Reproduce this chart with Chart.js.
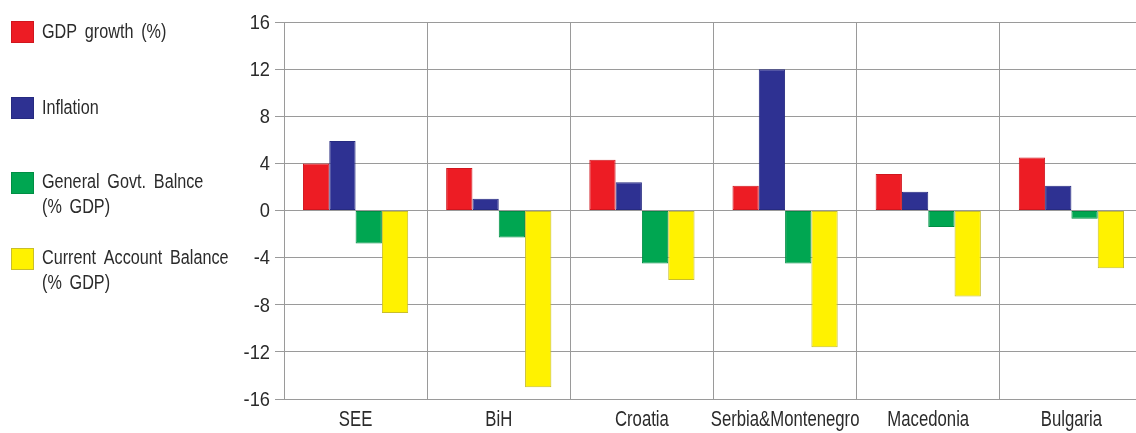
<!DOCTYPE html>
<html>
<head>
<meta charset="utf-8">
<script src="https://cdn.jsdelivr.net/npm/chart.js@4.4.1/dist/chart.umd.min.js"></script>
<style>
  html, body { margin: 0; padding: 0; background: #fff; overflow: hidden; }
  #wrap { width: 1146px; height: 433px; position: relative; }
</style>
</head>
<body>
<div id="wrap"><canvas id="c" width="1146" height="433"></canvas></div>
<script>
// Categories and series (%)
const countries = ['SEE', 'BiH', 'Croatia', 'Serbia&Montenegro', 'Macedonia', 'Bulgaria'];
const gdpGrowth = [4.0, 3.6, 4.3, 2.1, 3.1, 4.5];
const inflation = [5.9, 1.0, 2.4, 12.0, 1.6, 2.1];
const govtBalance = [-2.8, -2.3, -4.5, -4.5, -1.4, -0.7];
const currentAccount = [-8.7, -15.0, -5.9, -11.6, -7.3, -4.9];
const yTicks = [16, 12, 8, 4, 0, -4, -8, -12, -16];

const seriesLabels = [
  ['GDP growth (%)'],
  ['Inflation'],
  ['General Govt. Balnce', '(% GDP)'],
  ['Current Account Balance', '(% GDP)']
];

const FONT = "'Liberation Sans', Arial, sans-serif";
const TEXT_COLOR = '#2b2b2b';

// Condensed text: horizontally squeezed sans, optional extra space between words
function condensedText(ctx, text, x, y, opts) {
  const { size, squeeze, align = 'left', wordGap = 0 } = opts;
  ctx.save();
  ctx.font = size + 'px ' + FONT;
  ctx.fillStyle = TEXT_COLOR;
  ctx.textBaseline = 'middle';
  const words = text.split(' ');
  const space = ctx.measureText(' ').width + wordGap;
  const widths = words.map(w => ctx.measureText(w).width);
  const total = widths.reduce((a, b) => a + b, 0) + space * (words.length - 1);
  let start = 0;
  if (align === 'center') start = -total / 2;
  else if (align === 'right') start = -total;
  ctx.translate(x, y);
  ctx.scale(squeeze, 1);
  ctx.textAlign = 'left';
  let cx = start;
  words.forEach((w, i) => {
    ctx.fillText(w, cx, 0);
    cx += widths[i] + space;
  });
  ctx.restore();
}

// Axis labels and side legend
const textLayer = {
  id: 'textLayer',
  afterDraw(chart) {
    const ctx = chart.ctx;
    const xs = chart.scales.x;
    const ys = chart.scales.y;

    yTicks.forEach(v => {
      condensedText(ctx, String(v), 270, ys.getPixelForValue(v) + 1, { size: 21, squeeze: 0.87, align: 'right' });
    });
    chart.data.labels.forEach((lab, i) => {
      condensedText(ctx, lab, xs.getPixelForTick(i), 420, { size: 22, squeeze: 0.76, align: 'center' });
    });

    const rows = [32, 108, 183, 259];
    chart.data.datasets.forEach((ds, i) => {
      const cy = rows[i];
      ctx.save();
      ctx.fillStyle = ds.backgroundColor;
      ctx.fillRect(11, cy - 11, 23, 22);
      ctx.strokeStyle = ds.borderColor;
      ctx.lineWidth = 1;
      ctx.strokeRect(11.5, cy - 10.5, 22, 21);
      ctx.restore();
      const lines = seriesLabels[i];
      const startY = lines.length === 1 ? cy : cy - 1;
      lines.forEach((t, j) => condensedText(ctx, t, 42, startY + j * 25, { size: 20, squeeze: 0.81, wordGap: 4 }));
    });
  }
};

new Chart(document.getElementById('c'), {
  type: 'bar',
  data: {
    labels: countries,
    datasets: [
      { label: 'GDP growth (%)', data: gdpGrowth, backgroundColor: '#ED1C24', borderColor: '#D0161E' },
      { label: 'Inflation', data: inflation, backgroundColor: '#2E3192', borderColor: '#262A80' },
      { label: 'General Govt. Balnce (% GDP)', data: govtBalance, backgroundColor: '#00A651', borderColor: '#008E44' },
      { label: 'Current Account Balance (% GDP)', data: currentAccount, backgroundColor: '#FFF200', borderColor: '#C9BE2A' }
    ]
  },
  options: {
    responsive: false,
    animation: false,
    layout: { padding: { left: 240, top: 22, right: 3, bottom: 0 } },
    datasets: {
      bar: { barPercentage: 1.0, categoryPercentage: 0.735, borderWidth: 1, borderSkipped: false }
    },
    plugins: {
      legend: { display: false },
      tooltip: { enabled: false }
    },
    scales: {
      x: {
        afterFit(scale) { scale.height = 34; },
        grid: { color: '#9a9a9a', lineWidth: 1, drawTicks: false, offset: true },
        border: { color: '#9a9a9a' },
        ticks: { display: false, autoSkip: false }
      },
      y: {
        min: -16, max: 16,
        afterBuildTicks(scale) { scale.ticks = yTicks.map(v => ({ value: v })); },
        afterFit(scale) { scale.width = 44; },
        grid: { color: '#9a9a9a', lineWidth: 1, tickLength: 9 },
        border: { color: '#9a9a9a' },
        ticks: { display: false }
      }
    }
  },
  plugins: [textLayer]
});
</script>
</body>
</html>
